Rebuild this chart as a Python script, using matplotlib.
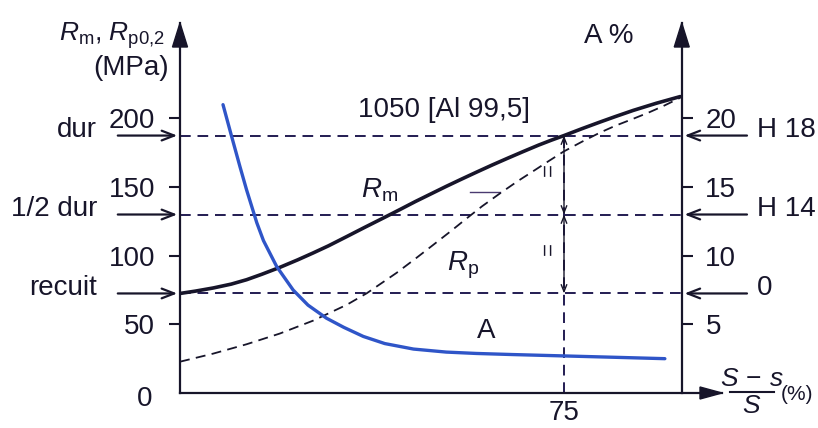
import matplotlib
matplotlib.use("Agg")
import matplotlib.pyplot as plt
from matplotlib.patches import Polygon
from matplotlib.lines import Line2D

plt.rcParams['font.family'] = ['Liberation Sans', 'DejaVu Sans']
plt.rcParams['mathtext.fontset'] = 'custom'
plt.rcParams['mathtext.rm'] = 'Liberation Sans'
plt.rcParams['mathtext.it'] = 'Liberation Sans:italic'

# Cold-work reduction (S - s)/S in %, tensile strength Rm (MPa)
rm_x = [0, 3, 6.5, 10, 13, 16, 19.5, 23, 26, 29, 32.6, 36, 40, 43, 46, 49, 52, 55, 58, 61, 64, 67, 70,
        72.5, 75, 78.5, 82, 85, 88.5, 93, 97.7]
rm = [72.5, 74.2, 76.5, 79.3, 82.5, 86.5, 91.5, 97.0, 102.0, 107.2, 114.0, 120.5, 128.0, 133.7, 139.5,
      145.0, 150.5, 155.8, 161.0, 166.1, 171.0, 175.8, 180.5, 184.1, 187.5, 192.5, 197.3, 201.3, 205.8,
      211.0, 215.9]

# Proof stress Rp0,2 (MPa)
rp_x = [0, 6.5, 13, 19.5, 26, 32.6, 36.5, 42.3, 46, 49.5, 53, 56, 59, 62.5, 66, 69, 72, 74.9, 78.5, 82,
        85, 88.5, 91.5, 94.4, 97.7]
rp = [22.8, 28.7, 35.5, 43.3, 52.7, 64.3, 72.7, 87.5, 97.9, 108.0, 118.2, 127.2, 136.0, 145.4, 154.4,
      161.6, 168.9, 175.8, 183.0, 189.6, 194.6, 199.7, 204.2, 209.0, 215.0]

# Elongation A (%)
a_x = [8.4, 10, 11.7, 13, 15, 16.3, 18.9, 22.1, 25, 28.6, 32, 35.8, 40, 45.6, 52, 57.9, 65, 75, 85, 94.7]
a_pct = [21.0, 18.8, 16.5, 14.8, 12.4, 11.1, 9.2, 7.5, 6.4, 5.45, 4.78, 4.12, 3.6, 3.2, 2.98, 2.88, 2.8,
         2.7, 2.6, 2.5]

# Temper levels (MPa)
level_names = ['dur', '1/2 dur', 'recuit']
level_tempers = ['H 18', 'H 14', '0']
level_values = [187.5, 130, 72.5]
marked_reduction = 75

left_ticks = [50, 100, 150, 200]
right_ticks = [5, 10, 15, 20]

INK = '#17152a'
DASH = '#221c52'
BLUE = '#2f55c8'
FS = 20
DASHES = (0, (5.5, 3.5))

W, H = 818, 428
fig = plt.figure(figsize=(W / 100, H / 100), dpi=100)
fig.patch.set_facecolor('white')


def px(x, y):
    return x / W, 1 - y / H


ax = fig.add_axes([180 / W, 35 / H, 542 / W, 370 / H])
sx, sy = 5.12, 1.373
XMAX = 542 / sx
YMAX = 370 / sy
X_RIGHT = 98
ax.set_xlim(0, XMAX)
ax.set_ylim(0, YMAX)
ax.patch.set_alpha(0)
for s in ['top', 'right']:
    ax.spines[s].set_visible(False)
for s in ['left', 'bottom']:
    ax.spines[s].set_color(INK)
    ax.spines[s].set_linewidth(1.6)

ax.set_yticks(left_ticks)
ax.set_yticklabels([str(v) for v in left_ticks])
ax.tick_params(axis='y', length=8, width=1.5, color=INK, labelsize=FS, pad=10, labelcolor=INK)
ax.set_xticks([])

# Secondary axis for elongation A %
ax2 = ax.twinx()
ax2.set_ylim(0, YMAX / 10)
ax2.patch.set_alpha(0)
for s in ['top', 'left', 'bottom']:
    ax2.spines[s].set_visible(False)
ax2.spines['right'].set_position(('data', X_RIGHT))
ax2.spines['right'].set_color(INK)
ax2.spines['right'].set_linewidth(1.6)
ax2.set_yticks(right_ticks)
ax2.set_yticklabels([str(v) for v in right_ticks])
ax2.tick_params(axis='y', length=8, width=1.5, color=INK, labelsize=FS, pad=9, labelcolor=INK)

# Axis arrowheads
for xc in [0, X_RIGHT]:
    ax.add_patch(Polygon([[xc, YMAX], [xc - 7.5 / sx, YMAX - 24 / sy], [xc + 7.5 / sx, YMAX - 24 / sy]],
                         closed=True, color=INK, clip_on=False, zorder=5))
ax.add_patch(Polygon([[XMAX, 0], [XMAX - 22 / sx, 6 / sy], [XMAX - 22 / sx, -6 / sy]],
                     closed=True, color=INK, clip_on=False, zorder=5))

# Temper level dashed lines with arrows and labels
arrow_kw = dict(arrowstyle='->,head_length=0.9,head_width=0.35', color=INK, lw=1.6)
for name, temper, val in zip(level_names, level_tempers, level_values):
    ax.plot([0, X_RIGHT], [val, val], ls=DASHES, color=DASH, lw=1.4, zorder=2)
    ax.annotate('', xy=(0, val), xytext=(-65 / sx, val), arrowprops=arrow_kw, annotation_clip=False)
    ax.annotate('', xy=(X_RIGHT, val), xytext=(X_RIGHT + 68 / sx, val), arrowprops=arrow_kw,
                annotation_clip=False)
    ax.text(-83 / sx, val + 4, name, ha='right', va='center', fontsize=FS, color=INK, clip_on=False)
    ax.text(X_RIGHT + 75 / sx, val + 4, temper, ha='left', va='center', fontsize=FS, color=INK, clip_on=False)

# Vertical marker at 75 %
ax.plot([marked_reduction, marked_reduction], [0, level_values[0]], ls=DASHES, color=DASH, lw=1.4, zorder=2)
for top, bot in [(level_values[0], level_values[1]), (level_values[1], level_values[2])]:
    ax.annotate('', xy=(marked_reduction, top), xytext=(marked_reduction, bot),
                arrowprops=dict(arrowstyle='<->,head_length=0.5,head_width=0.2', color=INK, lw=1.0,
                                shrinkA=0, shrinkB=0))
    ax.text(marked_reduction - 2.9, (top + bot) / 2 + 4, '=', rotation=90, ha='center', va='center',
            fontsize=16, color=INK)

# Curves
ax.plot(rp_x, rp, ls=DASHES, color=INK, lw=1.3, zorder=3)
ax.plot(rm_x, rm, color=INK, lw=2.6, zorder=4, solid_capstyle='round', solid_joinstyle='round')
ax2.plot(a_x, a_pct, color=BLUE, lw=2.4, zorder=4, solid_capstyle='round', solid_joinstyle='round')
ax.plot([56.6, 62.5], [146.4, 146.4], color='#4a3a70', lw=1.0)

# Curve labels
ax.text((380 - 180) / sx, (393 - 190) / sy, r'$R_\mathrm{m}$', ha='center', va='center', fontsize=FS, color=INK)
ax.text((463 - 180) / sx, (393 - 265) / sy, r'$R_\mathrm{p}$', ha='center', va='center', fontsize=FS, color=INK)
ax.text((486 - 180) / sx, (393 - 331) / sy, 'A', ha='center', va='center', fontsize=FS, color=INK)
ax.text((444 - 180) / sx, (393 - 110) / sy, '1050 [Al 99,5]', ha='center', va='center', fontsize=FS, color=INK)

# Axis titles and labels
fig.text(*px(112, 36), r'$R_\mathrm{m}$, $R_\mathrm{p0{,}2}$', ha='center', va='center', fontsize=19, color=INK)
fig.text(*px(131, 68), '(MPa)', ha='center', va='center', fontsize=FS, color=INK)
fig.text(*px(609, 36), 'A %', ha='center', va='center', fontsize=FS, color=INK)
fig.text(*px(145, 399), '0', ha='center', va='center', fontsize=FS, color=INK)
fig.text(*px(564, 413), str(marked_reduction), ha='center', va='center', fontsize=FS, color=INK)

# Reduction-of-area fraction label
fig.text(*px(752, 379), r'$S\,-\,s$', ha='center', va='center', fontsize=19, color=INK)
fig.add_artist(Line2D([730 / W, 774 / W], [1 - 392 / H, 1 - 392 / H], color=INK, lw=1.5))
fig.text(*px(752, 406), r'$S$', ha='center', va='center', fontsize=19, color=INK)
fig.text(*px(797, 395), '(%)', ha='center', va='center', fontsize=15, color=INK)

fig.savefig('out.png', dpi=100, facecolor='white')
